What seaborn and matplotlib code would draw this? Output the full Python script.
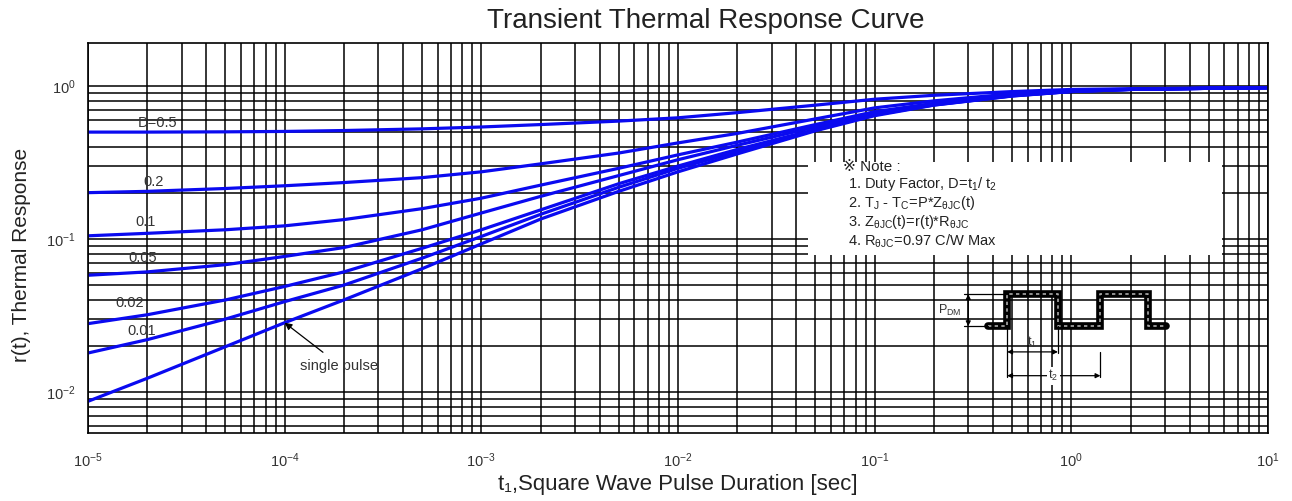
# Transient thermal response curve (log-log), redrawn with seaborn
import numpy as np
import pandas as pd
import matplotlib
matplotlib.use("Agg")
import matplotlib.pyplot as plt
from matplotlib.patches import Rectangle
from matplotlib.ticker import LogLocator, NullFormatter, FixedLocator
import seaborn as sns

# pulse duration t1 (sec)
t = [1e-5, 2e-5, 5e-5, 1e-4, 2e-4, 5e-4, 1e-3, 2e-3, 5e-3, 1e-2,
     2e-2, 5e-2, 1e-1, 2e-1, 5e-1, 1, 2, 5, 10]

# r(t), one list per duty factor
r_d050 = [0.500, 0.500, 0.502, 0.505, 0.512, 0.525, 0.540, 0.560, 0.590, 0.620,
          0.670, 0.750, 0.820, 0.870, 0.920, 0.950, 0.960, 0.970, 0.975]
r_d020 = [0.201, 0.205, 0.214, 0.223, 0.234, 0.252, 0.275, 0.310, 0.365, 0.425,
          0.490, 0.610, 0.720, 0.800, 0.890, 0.935, 0.955, 0.968, 0.975]
r_d010 = [0.105, 0.109, 0.115, 0.122, 0.134, 0.158, 0.185, 0.225, 0.290, 0.355,
          0.430, 0.560, 0.680, 0.770, 0.875, 0.930, 0.952, 0.966, 0.975]
r_d005 = [0.058, 0.061, 0.068, 0.077, 0.088, 0.115, 0.148, 0.190, 0.260, 0.330,
          0.410, 0.540, 0.670, 0.765, 0.870, 0.925, 0.950, 0.966, 0.975]
r_d002 = [0.028, 0.032, 0.040, 0.049, 0.061, 0.087, 0.115, 0.155, 0.230, 0.300,
          0.385, 0.520, 0.655, 0.755, 0.865, 0.922, 0.950, 0.966, 0.975]
r_d001 = [0.018, 0.022, 0.030, 0.039, 0.050, 0.075, 0.104, 0.145, 0.218, 0.290,
          0.372, 0.515, 0.648, 0.752, 0.862, 0.921, 0.950, 0.966, 0.975]
r_single = [0.0087, 0.0123, 0.0198, 0.0284, 0.040, 0.064, 0.093, 0.135, 0.205, 0.275,
            0.360, 0.510, 0.640, 0.750, 0.860, 0.920, 0.950, 0.966, 0.975]

curve_names = ["D=0.5", "0.2", "0.1", "0.05", "0.02", "0.01", "single pulse"]
curve_values = [r_d050, r_d020, r_d010, r_d005, r_d002, r_d001, r_single]

x_ticks = [1e-5, 1e-4, 1e-3, 1e-2, 1e-1, 1, 10]
y_ticks = [1e-2, 1e-1, 1]

note_lines = ["1. Duty Factor, D=t$_1$/ t$_2$",
              "2. T$_J$ - T$_C$=P*Z$_{θJC}$(t)",
              "3. Z$_{θJC}$(t)=r(t)*R$_{θJC}$",
              "4. R$_{θJC}$=0.97 C/W Max"]

df = pd.concat([pd.DataFrame({"t": t, "r": v, "curve": n})
                for n, v in zip(curve_names, curve_values)], ignore_index=True)

sns.set_theme(style="white")
plt.rcParams["font.family"] = ["Liberation Sans", "DejaVu Sans", "Noto Sans CJK JP"]
plt.rcParams["mathtext.fontset"] = "custom"
plt.rcParams["mathtext.rm"] = "Liberation Sans"
plt.rcParams["mathtext.it"] = "Liberation Sans"
plt.rcParams["mathtext.default"] = "regular"

txt = "#333333"
fig = plt.figure(figsize=(12.92, 5.01), dpi=100)
ax = fig.add_axes([0.0681, 0.1357, 0.9133, 0.7784])
ax.set_xscale("log")
ax.set_yscale("log")

sns.lineplot(data=df, x="t", y="r", hue="curve", palette=["#0a0af0"] * 7,
             estimator=None, sort=False, legend=False, lw=2.3, ax=ax)

ax.set_xlim(1e-5, 10)
ax.set_ylim(0.0054, 1.91)
ax.xaxis.set_major_locator(FixedLocator(x_ticks))
ax.yaxis.set_major_locator(FixedLocator(y_ticks))
for axis in (ax.xaxis, ax.yaxis):
    axis.set_minor_locator(LogLocator(base=10, subs=np.arange(2, 10), numticks=100))
    axis.set_minor_formatter(NullFormatter())
ax.grid(True, which="both", color="black", lw=1.1)
ax.tick_params(which="both", length=0, labelsize=10.5, labelcolor=txt)
ax.tick_params(axis="x", pad=13)
ax.tick_params(axis="y", pad=9)
for s in ax.spines.values():
    s.set_color("black")
    s.set_linewidth(1.2)
ax.set_xlabel("")
ax.set_ylabel("")

# curve labels
label_pos = [(0.0424, 0.795), (0.0466, 0.644), (0.0398, 0.541), (0.0339, 0.449),
             (0.0229, 0.333), (0.0331, 0.262)]
for n, (lx, ly) in zip(curve_names[:-1], label_pos):
    ax.text(lx, ly, n, transform=ax.transAxes, fontsize=10.5, color=txt,
            ha="left", va="center", zorder=5)
ax.annotate(curve_names[-1], xy=(t[3], r_single[3]), xycoords="data",
            xytext=(0.180, 0.172), textcoords="axes fraction",
            fontsize=10.5, color=txt, ha="left", va="center", zorder=5,
            arrowprops=dict(arrowstyle="-|>", color="black", lw=0.9,
                            shrinkA=4, shrinkB=0, relpos=(0.4, 1.0)))

# note box
ax.add_patch(Rectangle((0.610, 0.456), 0.351, 0.239, transform=ax.transAxes,
                       facecolor="white", edgecolor="none", zorder=3))
ax.text(0.640, 0.682, "※ Note :", transform=ax.transAxes, fontsize=11,
        color="#222222", va="center", zorder=5)
for i, line in enumerate(note_lines):
    ax.text(0.644, 0.638 - i * 0.049, line, transform=ax.transAxes, fontsize=10.5,
            color="#222222", va="center", zorder=5)

# square wave sketch
wx = [0.763, 0.779, 0.779, 0.822, 0.822, 0.858, 0.858, 0.898, 0.898, 0.914]
wy = [0.274, 0.274, 0.356, 0.356, 0.274, 0.274, 0.356, 0.356, 0.274, 0.274]
ax.plot(wx, wy, transform=ax.transAxes, color="black", lw=5.5,
        solid_joinstyle="miter", zorder=4)
ax.plot(wx, wy, transform=ax.transAxes, color="#aaaaaa", lw=1.2,
        ls=(0, (2, 2)), zorder=4)
thin = dict(transform=ax.transAxes, color="black", lw=0.9, zorder=4)
ax.plot([0.742, 0.779], [0.356, 0.356], **thin)
ax.plot([0.742, 0.763], [0.274, 0.274], **thin)
ax.plot([0.779, 0.779], [0.274, 0.144], **thin)
ax.plot([0.822, 0.822], [0.274, 0.205], **thin)
ax.plot([0.858, 0.858], [0.208, 0.144], **thin)
arr = dict(arrowstyle="<|-|>", color="black", lw=0.9, shrinkA=0, shrinkB=0,
           mutation_scale=7)
ax.annotate("", xy=(0.746, 0.356), xytext=(0.746, 0.274), xycoords="axes fraction",
            arrowprops=arr, zorder=4)
ax.annotate("", xy=(0.779, 0.208), xytext=(0.822, 0.208), xycoords="axes fraction",
            arrowprops=arr, zorder=4)
ax.annotate("", xy=(0.779, 0.147), xytext=(0.858, 0.147), xycoords="axes fraction",
            arrowprops=arr, zorder=4)
ax.text(0.740, 0.315, "P$_{DM}$", transform=ax.transAxes, fontsize=9, color=txt,
        ha="right", va="center", zorder=5)
ax.text(0.800, 0.232, "t$_1$", transform=ax.transAxes, fontsize=9, color=txt,
        ha="center", va="center", zorder=5)
ax.text(0.818, 0.147, "t$_2$", transform=ax.transAxes, fontsize=9, color=txt,
        ha="center", va="center", zorder=5,
        bbox=dict(facecolor="white", edgecolor="none", pad=1))

fig.text(0.5465, 0.958, "Transient Thermal Response Curve", fontsize=20,
         color="#222222", ha="center", va="center")
fig.text(0.525, 0.032, "t₁,Square Wave Pulse Duration [sec]", fontsize=16,
         color="#222222", ha="center", va="center")
fig.text(0.017, 0.491, "r(t), Thermal Response", fontsize=15, color="#222222",
         rotation=90, ha="center", va="center")

fig.savefig("out.png", dpi=100)
